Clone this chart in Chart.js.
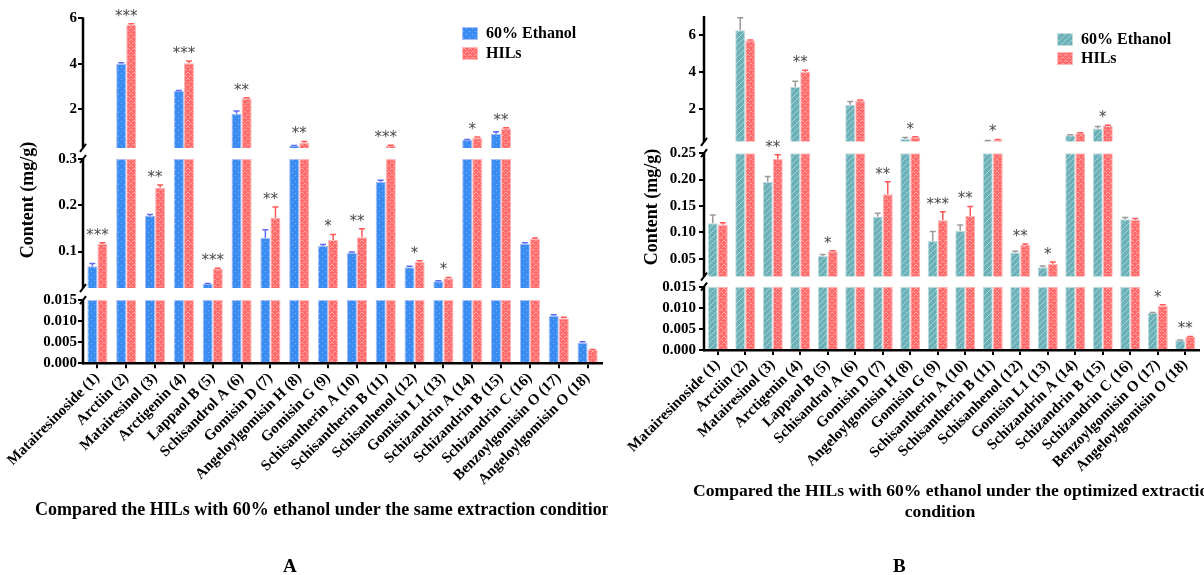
<!DOCTYPE html>
<html><head><meta charset="utf-8">
<script src="https://cdn.jsdelivr.net/npm/chart.js@4"></script>
<style>
body{margin:0;background:#fff;width:1204px;height:575px;position:relative;overflow:hidden;}
#ca{position:absolute;left:0;top:0;}
#cb{position:absolute;left:608px;top:0;}
.pl{position:absolute;font:bold 19px "Liberation Serif";color:#000;top:555px;}
</style></head><body>
<canvas id="ca" width="608" height="575"></canvas>
<canvas id="cb" width="596" height="575"></canvas>
<div class="pl" style="left:283px">A</div>
<div class="pl" style="left:893px">B</div>
<script>
const categories = ['Matairesinoside (1)','Arctiin (2)','Matairesinol (3)','Arctigenin (4)','Lappaol B (5)','Schisandrol A (6)','Gomisin D (7)','Angeloylgomisin H (8)','Gomisin G (9)','Schisantherin A (10)','Schisantherin B (11)','Schisanhenol (12)','Gomisin L1 (13)','Schizandrin A (14)','Schizandrin B (15)','Schizandrin C (16)','Benzoylgomisin O (17)','Angeloylgomisin O (18)'];
const seriesNames = ['60% Ethanol','HILs'];

// Panel A: same extraction condition
const ethanolA = [0.068,4.00,0.177,2.80,0.030,1.80,0.130,0.39,0.112,0.097,0.250,0.066,0.036,0.65,0.91,0.117,0.0113,0.0049];
const ethanolErrA = [0.006,0.05,0.003,0.02,0.001,0.12,0.017,0.02,0.003,0.002,0.004,0.002,0.001,0.02,0.10,0.002,0.0002,0.0002];
const hilsA = [0.116,5.72,0.238,4.02,0.063,2.48,0.173,0.53,0.125,0.131,0.40,0.078,0.042,0.75,1.16,0.127,0.0107,0.0032];
const hilsErrA = [0.003,0.04,0.006,0.10,0.001,0.03,0.023,0.05,0.012,0.018,0.02,0.002,0.002,0.03,0.03,0.002,0.0002,0.0001];
const sigA = ['***','***','**','***','***','**','**','**','*','**','***','*','*','*','**','','',''];

// Panel B: optimized extraction condition
const ethanolB = [0.117,6.29,0.196,3.23,0.055,2.25,0.130,0.41,0.0835,0.103,0.30,0.062,0.034,0.61,0.97,0.125,0.0088,0.0023];
const ethanolErrB = [0.016,0.67,0.010,0.30,0.003,0.18,0.006,0.08,0.018,0.011,0.03,0.002,0.002,0.02,0.11,0.003,0.0001,0.0001];
const hilsB = [0.115,5.73,0.239,4.02,0.064,2.49,0.172,0.50,0.123,0.131,0.35,0.076,0.040,0.72,1.12,0.124,0.0105,0.0031];
const hilsErrB = [0.003,0.03,0.008,0.10,0.001,0.02,0.024,0.03,0.016,0.018,0.03,0.002,0.004,0.02,0.03,0.002,0.0002,0.0001];
const sigB = ['','','**','**','*','','**','*','***','**','*','**','*','','*','','*','**'];

// Tick values / labels for each axis segment
const ticksTopA = [2,4,6], tickLabelsTopA = ['2','4','6'];
const ticksMidA = [0.1,0.2,0.3], tickLabelsMidA = ['0.1','0.2','0.3'];
const ticksBotA = [0,0.005,0.01,0.015], tickLabelsBotA = ['0.000','0.005','0.010','0.015'];
const ticksTopB = [2,4,6], tickLabelsTopB = ['2','4','6'];
const ticksMidB = [0.05,0.10,0.15,0.20,0.25], tickLabelsMidB = ['0.05','0.10','0.15','0.20','0.25'];
const ticksBotB = [0,0.005,0.01,0.015], tickLabelsBotB = ['0.000','0.005','0.010','0.015'];

const SERIF = '"Liberation Serif", "Times New Roman", serif';

function makePattern(ctx, st){
  const c = document.createElement('canvas'); c.width = 6; c.height = 6;
  const x = c.getContext('2d');
  x.fillStyle = st.base; x.fillRect(0,0,6,6);
  x.fillStyle = st.fg; x.strokeStyle = st.fg;
  if (st.kind === 'dots'){ x.fillRect(1,1,1,1); x.fillRect(4,4,1,1); }
  else if (st.kind === 'hex'){ x.fillRect(1,0,2,1); x.fillRect(0,1,1,1); x.fillRect(3,1,1,1); x.fillRect(4,3,2,1); x.fillRect(3,4,1,1); x.fillRect(0,4,1,1); }
  else { x.lineWidth = 1; x.beginPath(); x.moveTo(-1,7); x.lineTo(7,-1); x.moveTo(-1,1); x.lineTo(1,-1); x.moveTo(5,7); x.lineTo(7,5); x.stroke(); }
  return ctx.createPattern(c,'repeat');
}

function buildPanel(canvas, P){
  const ctx = canvas.getContext('2d');
  const fills = P.series.map(s => makePattern(ctx, s.style));
  const segs = P.segments;
  const nS = P.series.length;
  const datasets = [];
  segs.forEach(sg => {
    P.series.forEach((s, i) => {
      datasets.push({
        label: s.name, stack: 's' + i, yAxisID: sg.id,
        data: s.values.map(v => v <= sg.lo ? null : (sg.lo === 0 ? Math.min(v, sg.hi) : [sg.lo, Math.min(v, sg.hi)])),
        backgroundColor: fills[i], borderColor: s.border, borderWidth: 1,
        categoryPercentage: P.catPct, barPercentage: 1
      });
    });
  });
  const scales = {
    x: {
      type: 'category', labels: categories, stacked: true, offset: true,
      grid: {display: true, drawOnChartArea: false, offset: false, tickLength: 5, color: '#000', lineWidth: 2},
      border: {display: true, width: 2.5, color: '#000'},
      ticks: {maxRotation: 45, minRotation: 45, autoSkip: false, color: '#000', padding: 1,
        font: {family: SERIF, size: 15, weight: 'bold'}},
      afterFit(s){ s.height = P.xHeight; s.paddingLeft = 0; s.paddingRight = 0; }
    }
  };
  segs.forEach((sg, k) => {
    scales[sg.id] = {
      type: 'linear', position: 'left', stack: 'yst', stackWeight: sg.weight, weight: segs.length - 1 - k,
      stacked: false, min: sg.min, max: sg.max,
      afterBuildTicks(s){ s.ticks = sg.ticks.map(v => ({value: v})); },
      ticks: {callback: (v, i) => sg.labels[i], color: '#000', padding: P.tickPad, autoSkip: false,
        font: {family: SERIF, size: 15, weight: 'bold'}},
      grid: {display: true, drawOnChartArea: false, tickLength: 5, color: '#000', lineWidth: 2},
      border: {display: false},
      afterFit(s){ s.width = P.yWidth; }
    };
  });

  function segFor(v){
    if (v > segs[0].lo) return segs[0];
    if (v > segs[2].hi) return segs[1];
    return segs[2];
  }

  const deco = {
    id: 'deco',
    afterDraw(chart){
      const c = chart.ctx, ca = chart.chartArea, X = ca.left;
      c.save();
      // broken y axis
      c.strokeStyle = '#000'; c.lineWidth = 2.5;
      segs.forEach((sg, k) => {
        const sc = chart.scales[sg.id];
        const y1 = sc.getPixelForValue(sg.axisTop);
        const y2 = k === segs.length - 1 ? ca.bottom + 1.2 : sc.getPixelForValue(sg.min);
        c.beginPath(); c.moveTo(X, y1 - (k === 0 ? 1 : 0)); c.lineTo(X, y2); c.stroke();
        c.lineWidth = 2;
        if (k > 0){ c.beginPath(); c.moveTo(X - 3, y1 + 4); c.lineTo(X + 3, y1 - 4); c.stroke(); }
        if (k < segs.length - 1){ c.beginPath(); c.moveTo(X - 3, y2 + 4); c.lineTo(X + 3, y2 - 4); c.stroke(); }
        c.lineWidth = 2.5;
      });
      // error bars and significance
      const botBase = (segs.length - 1) * nS;
      categories.forEach((cat, j) => {
        let topY = Infinity, xs = [];
        P.series.forEach((s, i) => {
          const el = chart.getDatasetMeta(botBase + i).data[j];
          const v = s.values[j], e = s.errors[j];
          const sg = segFor(v), sc = chart.scales[sg.id];
          const yv = sc.getPixelForValue(v), ye = sc.getPixelForValue(v + e);
          xs.push(el.x);
          topY = Math.min(topY, ye, yv);
          c.strokeStyle = s.errColor; c.lineWidth = 1.5;
          c.beginPath(); c.moveTo(el.x, yv); c.lineTo(el.x, ye);
          c.moveTo(el.x - 3, ye); c.lineTo(el.x + 3, ye); c.stroke();
        });
        const sig = P.sig[j];
        if (sig){
          c.fillStyle = '#4a4a4a'; c.font = '15px "DejaVu Sans"';
          c.textAlign = 'center'; c.textBaseline = 'middle';
          c.fillText(sig, (xs[0] + xs[1]) / 2, topY - 7);
        }
      });
      // legend
      P.series.forEach((s, i) => {
        const lx = P.legend.x, ly = P.legend.y + i * P.legend.dy;
        c.fillStyle = fills[i]; c.fillRect(lx, ly, 16, 13);
        c.strokeStyle = s.border; c.lineWidth = 1; c.strokeRect(lx + 0.5, ly + 0.5, 15, 12);
        c.fillStyle = '#000'; c.font = 'bold 16px ' + SERIF; c.textAlign = 'left'; c.textBaseline = 'middle';
        c.fillText(s.name, lx + 24, ly + 7);
      });
      // y title
      c.save(); c.translate(P.yTitle.x, P.yTitle.y); c.rotate(-Math.PI / 2);
      c.fillStyle = '#000'; c.font = 'bold 18px ' + SERIF; c.textAlign = 'center'; c.textBaseline = 'middle';
      c.fillText('Content (mg/g)', 0, 0); c.restore();
      // x title
      c.fillStyle = '#000'; c.font = 'bold ' + P.xTitleSize + 'px ' + SERIF; c.textBaseline = 'middle';
      P.xTitle.forEach(t => { c.textAlign = t.align; c.fillText(t.text, t.x, t.y); });
      c.restore();
    }
  };

  return new Chart(canvas, {
    type: 'bar',
    data: {labels: categories, datasets},
    options: {
      responsive: false, maintainAspectRatio: false, animation: false,
      layout: {padding: {top: P.padTop, right: P.padRight, left: 0, bottom: 0}},
      plugins: {legend: {display: false}, tooltip: {enabled: false}},
      scales
    },
    plugins: [deco]
  });
}

buildPanel(document.getElementById('ca'), {
  series: [
    {name: seriesNames[0], values: ethanolA, errors: ethanolErrA, style: {base: '#3b8cf0', fg: '#7db3fb', kind: 'dots'}, border: '#a7bdfa', errColor: '#5d6cf5'},
    {name: seriesNames[1], values: hilsA, errors: hilsErrA, style: {base: '#ff6b6b', fg: '#ffa3a3', kind: 'hex'}, border: '#ffb7b7', errColor: '#ff5858'}
  ],
  sig: sigA,
  segments: [
    {id: 'yTop', min: 0.3, max: 6, lo: 0.3, hi: Infinity, axisTop: 6, ticks: ticksTopA, labels: tickLabelsTopA, weight: 129.7},
    {id: 'yMid', min: 0.021, max: 0.324, lo: 0.021, hi: 0.3, axisTop: 0.3, ticks: ticksMidA, labels: tickLabelsMidA, weight: 140.3},
    {id: 'yBot', min: 0, max: 0.01784, lo: 0, hi: 0.015, axisTop: 0.015, ticks: ticksBotA, labels: tickLabelsBotA, weight: 75.3}
  ],
  catPct: 0.70, xHeight: 211.7, yWidth: 83, tickPad: 1, padTop: 18.3, padRight: 6,
  legend: {x: 462, y: 27, dy: 20},
  yTitle: {x: 28, y: 200},
  xTitleSize: 18,
  xTitle: [{text: 'Compared the HILs with 60% ethanol under the same extraction condition', x: 35, y: 510, align: 'left'}]
});

buildPanel(document.getElementById('cb'), {
  series: [
    {name: seriesNames[0], values: ethanolB, errors: ethanolErrB, style: {base: '#6cb1b7', fg: '#a6d3d7', kind: 'hatch'}, border: '#c2dcdf', errColor: '#9a9a9a'},
    {name: seriesNames[1], values: hilsB, errors: hilsErrB, style: {base: '#ff6b6b', fg: '#ffa3a3', kind: 'hex'}, border: '#ffb7b7', errColor: '#ff5858'}
  ],
  sig: sigB,
  segments: [
    {id: 'yTop', min: 0.25, max: 7, lo: 0.25, hi: Infinity, axisTop: 7, ticks: ticksTopB, labels: tickLabelsTopB, weight: 124.9},
    {id: 'yMid', min: 0.0159, max: 0.2714, lo: 0.0159, hi: 0.25, axisTop: 0.25, ticks: ticksMidB, labels: tickLabelsMidB, weight: 134.9},
    {id: 'yBot', min: 0, max: 0.01737, lo: 0, hi: 0.015, axisTop: 0.015, ticks: ticksBotB, labels: tickLabelsBotB, weight: 73.3}
  ],
  catPct: 0.73, xHeight: 225, yWidth: 96, tickPad: 3, padTop: 17, padRight: 5,
  legend: {x: 449, y: 33, dy: 19},
  yTitle: {x: 44, y: 207},
  xTitleSize: 17.6,
  xTitle: [
    {text: 'Compared the HILs with 60% ethanol under the optimized extraction', x: 85, y: 491, align: 'left'},
    {text: 'condition', x: 332, y: 512, align: 'center'}
  ]
});
</script>
</body></html>
